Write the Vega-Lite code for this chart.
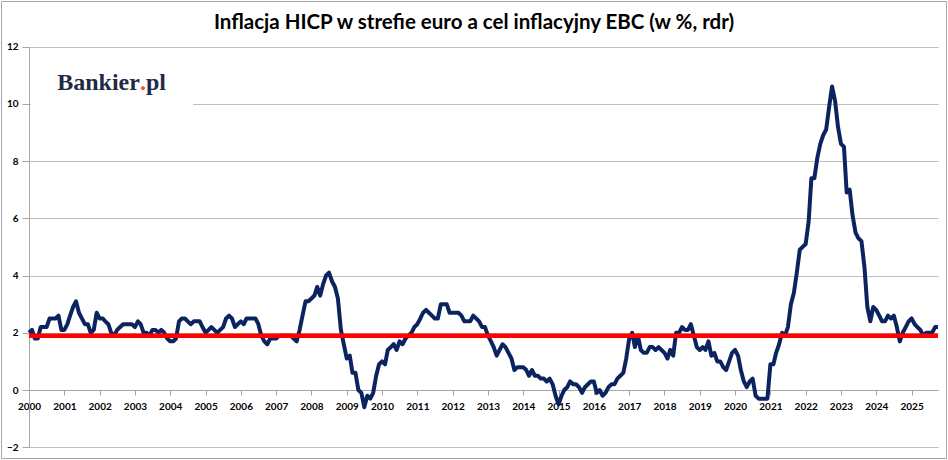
{
  "$schema": "https://vega.github.io/schema/vega-lite/v6.json",
  "autosize": "none",
  "padding": 1,
  "width": 945,
  "height": 457,
  "background": "white",
  "config": {"view": {"stroke": "#a6a6a6", "strokeWidth": 1}},
  "title": {
    "text": "Inflacja HICP w strefie euro a cel inflacyjny EBC (w %, rdr)",
    "anchor": "middle",
    "frame": "bounds",
    "offset": -27,
    "dy": 21,
    "baseline": "alphabetic",
    "font": "Lato",
    "fontSize": 20.5,
    "fontWeight": "bold",
    "color": "#000000"
  },
  "datasets": {
    "cel": [
      {"d": "2000-01-01", "cel": 1.9},
      {"d": "2025-10-01", "cel": 1.9}
    ],
    "hicp": [
      {"d": "2000-01-01", "v": 2.0}, {"d": "2000-02-01", "v": 2.1}, {"d": "2000-03-01", "v": 1.8}, {"d": "2000-04-01", "v": 1.8},
      {"d": "2000-05-01", "v": 2.2}, {"d": "2000-06-01", "v": 2.2}, {"d": "2000-07-01", "v": 2.2}, {"d": "2000-08-01", "v": 2.5},
      {"d": "2000-09-01", "v": 2.5}, {"d": "2000-10-01", "v": 2.5}, {"d": "2000-11-01", "v": 2.6}, {"d": "2000-12-01", "v": 2.1},
      {"d": "2001-01-01", "v": 2.1}, {"d": "2001-02-01", "v": 2.3}, {"d": "2001-03-01", "v": 2.6}, {"d": "2001-04-01", "v": 2.9},
      {"d": "2001-05-01", "v": 3.1}, {"d": "2001-06-01", "v": 2.7}, {"d": "2001-07-01", "v": 2.5}, {"d": "2001-08-01", "v": 2.3},
      {"d": "2001-09-01", "v": 2.3}, {"d": "2001-10-01", "v": 2.0}, {"d": "2001-11-01", "v": 2.1}, {"d": "2001-12-01", "v": 2.7},
      {"d": "2002-01-01", "v": 2.5}, {"d": "2002-02-01", "v": 2.5}, {"d": "2002-03-01", "v": 2.4}, {"d": "2002-04-01", "v": 2.3},
      {"d": "2002-05-01", "v": 2.0}, {"d": "2002-06-01", "v": 1.9}, {"d": "2002-07-01", "v": 2.1}, {"d": "2002-08-01", "v": 2.2},
      {"d": "2002-09-01", "v": 2.3}, {"d": "2002-10-01", "v": 2.3}, {"d": "2002-11-01", "v": 2.3}, {"d": "2002-12-01", "v": 2.3},
      {"d": "2003-01-01", "v": 2.2}, {"d": "2003-02-01", "v": 2.4}, {"d": "2003-03-01", "v": 2.3}, {"d": "2003-04-01", "v": 2.0},
      {"d": "2003-05-01", "v": 2.0}, {"d": "2003-06-01", "v": 1.9}, {"d": "2003-07-01", "v": 2.1}, {"d": "2003-08-01", "v": 2.1},
      {"d": "2003-09-01", "v": 2.0}, {"d": "2003-10-01", "v": 2.1}, {"d": "2003-11-01", "v": 2.0}, {"d": "2003-12-01", "v": 1.8},
      {"d": "2004-01-01", "v": 1.7}, {"d": "2004-02-01", "v": 1.7}, {"d": "2004-03-01", "v": 1.8}, {"d": "2004-04-01", "v": 2.4},
      {"d": "2004-05-01", "v": 2.5}, {"d": "2004-06-01", "v": 2.5}, {"d": "2004-07-01", "v": 2.4}, {"d": "2004-08-01", "v": 2.3},
      {"d": "2004-09-01", "v": 2.4}, {"d": "2004-10-01", "v": 2.4}, {"d": "2004-11-01", "v": 2.4}, {"d": "2004-12-01", "v": 2.2},
      {"d": "2005-01-01", "v": 2.0}, {"d": "2005-02-01", "v": 2.1}, {"d": "2005-03-01", "v": 2.2}, {"d": "2005-04-01", "v": 2.1},
      {"d": "2005-05-01", "v": 2.0}, {"d": "2005-06-01", "v": 2.1}, {"d": "2005-07-01", "v": 2.2}, {"d": "2005-08-01", "v": 2.5},
      {"d": "2005-09-01", "v": 2.6}, {"d": "2005-10-01", "v": 2.5}, {"d": "2005-11-01", "v": 2.2}, {"d": "2005-12-01", "v": 2.3},
      {"d": "2006-01-01", "v": 2.4}, {"d": "2006-02-01", "v": 2.3}, {"d": "2006-03-01", "v": 2.5}, {"d": "2006-04-01", "v": 2.5},
      {"d": "2006-05-01", "v": 2.5}, {"d": "2006-06-01", "v": 2.5}, {"d": "2006-07-01", "v": 2.3}, {"d": "2006-08-01", "v": 1.9},
      {"d": "2006-09-01", "v": 1.7}, {"d": "2006-10-01", "v": 1.6}, {"d": "2006-11-01", "v": 1.8}, {"d": "2006-12-01", "v": 1.8},
      {"d": "2007-01-01", "v": 1.8}, {"d": "2007-02-01", "v": 1.9}, {"d": "2007-03-01", "v": 1.9}, {"d": "2007-04-01", "v": 1.9},
      {"d": "2007-05-01", "v": 1.9}, {"d": "2007-06-01", "v": 1.9}, {"d": "2007-07-01", "v": 1.8}, {"d": "2007-08-01", "v": 1.7},
      {"d": "2007-09-01", "v": 2.1}, {"d": "2007-10-01", "v": 2.6}, {"d": "2007-11-01", "v": 3.1}, {"d": "2007-12-01", "v": 3.1},
      {"d": "2008-01-01", "v": 3.2}, {"d": "2008-02-01", "v": 3.3}, {"d": "2008-03-01", "v": 3.6}, {"d": "2008-04-01", "v": 3.3},
      {"d": "2008-05-01", "v": 3.7}, {"d": "2008-06-01", "v": 4.0}, {"d": "2008-07-01", "v": 4.1}, {"d": "2008-08-01", "v": 3.8},
      {"d": "2008-09-01", "v": 3.6}, {"d": "2008-10-01", "v": 3.2}, {"d": "2008-11-01", "v": 2.1}, {"d": "2008-12-01", "v": 1.6},
      {"d": "2009-01-01", "v": 1.1}, {"d": "2009-02-01", "v": 1.2}, {"d": "2009-03-01", "v": 0.6}, {"d": "2009-04-01", "v": 0.6},
      {"d": "2009-05-01", "v": 0.0}, {"d": "2009-06-01", "v": -0.1}, {"d": "2009-07-01", "v": -0.6}, {"d": "2009-08-01", "v": -0.2},
      {"d": "2009-09-01", "v": -0.3}, {"d": "2009-10-01", "v": -0.1}, {"d": "2009-11-01", "v": 0.5}, {"d": "2009-12-01", "v": 0.9},
      {"d": "2010-01-01", "v": 1.0}, {"d": "2010-02-01", "v": 0.9}, {"d": "2010-03-01", "v": 1.4}, {"d": "2010-04-01", "v": 1.5},
      {"d": "2010-05-01", "v": 1.6}, {"d": "2010-06-01", "v": 1.4}, {"d": "2010-07-01", "v": 1.7}, {"d": "2010-08-01", "v": 1.6},
      {"d": "2010-09-01", "v": 1.8}, {"d": "2010-10-01", "v": 1.9}, {"d": "2010-11-01", "v": 2.0}, {"d": "2010-12-01", "v": 2.2},
      {"d": "2011-01-01", "v": 2.3}, {"d": "2011-02-01", "v": 2.5}, {"d": "2011-03-01", "v": 2.7}, {"d": "2011-04-01", "v": 2.8},
      {"d": "2011-05-01", "v": 2.7}, {"d": "2011-06-01", "v": 2.6}, {"d": "2011-07-01", "v": 2.5}, {"d": "2011-08-01", "v": 2.5},
      {"d": "2011-09-01", "v": 3.0}, {"d": "2011-10-01", "v": 3.0}, {"d": "2011-11-01", "v": 3.0}, {"d": "2011-12-01", "v": 2.7},
      {"d": "2012-01-01", "v": 2.7}, {"d": "2012-02-01", "v": 2.7}, {"d": "2012-03-01", "v": 2.7}, {"d": "2012-04-01", "v": 2.6},
      {"d": "2012-05-01", "v": 2.4}, {"d": "2012-06-01", "v": 2.4}, {"d": "2012-07-01", "v": 2.4}, {"d": "2012-08-01", "v": 2.6},
      {"d": "2012-09-01", "v": 2.5}, {"d": "2012-10-01", "v": 2.4}, {"d": "2012-11-01", "v": 2.2}, {"d": "2012-12-01", "v": 2.2},
      {"d": "2013-01-01", "v": 1.9}, {"d": "2013-02-01", "v": 1.7}, {"d": "2013-03-01", "v": 1.5}, {"d": "2013-04-01", "v": 1.2},
      {"d": "2013-05-01", "v": 1.4}, {"d": "2013-06-01", "v": 1.6}, {"d": "2013-07-01", "v": 1.5}, {"d": "2013-08-01", "v": 1.3},
      {"d": "2013-09-01", "v": 1.1}, {"d": "2013-10-01", "v": 0.7}, {"d": "2013-11-01", "v": 0.8}, {"d": "2013-12-01", "v": 0.8},
      {"d": "2014-01-01", "v": 0.8}, {"d": "2014-02-01", "v": 0.7}, {"d": "2014-03-01", "v": 0.5}, {"d": "2014-04-01", "v": 0.7},
      {"d": "2014-05-01", "v": 0.5}, {"d": "2014-06-01", "v": 0.5}, {"d": "2014-07-01", "v": 0.4}, {"d": "2014-08-01", "v": 0.4},
      {"d": "2014-09-01", "v": 0.3}, {"d": "2014-10-01", "v": 0.4}, {"d": "2014-11-01", "v": 0.2}, {"d": "2014-12-01", "v": -0.2},
      {"d": "2015-01-01", "v": -0.5}, {"d": "2015-02-01", "v": -0.2}, {"d": "2015-03-01", "v": 0.0}, {"d": "2015-04-01", "v": 0.1},
      {"d": "2015-05-01", "v": 0.3}, {"d": "2015-06-01", "v": 0.2}, {"d": "2015-07-01", "v": 0.2}, {"d": "2015-08-01", "v": 0.1},
      {"d": "2015-09-01", "v": -0.1}, {"d": "2015-10-01", "v": 0.1}, {"d": "2015-11-01", "v": 0.2}, {"d": "2015-12-01", "v": 0.3},
      {"d": "2016-01-01", "v": 0.3}, {"d": "2016-02-01", "v": -0.1}, {"d": "2016-03-01", "v": 0.0}, {"d": "2016-04-01", "v": -0.2},
      {"d": "2016-05-01", "v": -0.1}, {"d": "2016-06-01", "v": 0.1}, {"d": "2016-07-01", "v": 0.2}, {"d": "2016-08-01", "v": 0.2},
      {"d": "2016-09-01", "v": 0.4}, {"d": "2016-10-01", "v": 0.5}, {"d": "2016-11-01", "v": 0.6}, {"d": "2016-12-01", "v": 1.1},
      {"d": "2017-01-01", "v": 1.8}, {"d": "2017-02-01", "v": 2.0}, {"d": "2017-03-01", "v": 1.5}, {"d": "2017-04-01", "v": 1.9},
      {"d": "2017-05-01", "v": 1.4}, {"d": "2017-06-01", "v": 1.3}, {"d": "2017-07-01", "v": 1.3}, {"d": "2017-08-01", "v": 1.5},
      {"d": "2017-09-01", "v": 1.5}, {"d": "2017-10-01", "v": 1.4}, {"d": "2017-11-01", "v": 1.5}, {"d": "2017-12-01", "v": 1.4},
      {"d": "2018-01-01", "v": 1.3}, {"d": "2018-02-01", "v": 1.1}, {"d": "2018-03-01", "v": 1.4}, {"d": "2018-04-01", "v": 1.2},
      {"d": "2018-05-01", "v": 2.0}, {"d": "2018-06-01", "v": 2.0}, {"d": "2018-07-01", "v": 2.2}, {"d": "2018-08-01", "v": 2.1},
      {"d": "2018-09-01", "v": 2.1}, {"d": "2018-10-01", "v": 2.3}, {"d": "2018-11-01", "v": 1.9}, {"d": "2018-12-01", "v": 1.5},
      {"d": "2019-01-01", "v": 1.4}, {"d": "2019-02-01", "v": 1.5}, {"d": "2019-03-01", "v": 1.4}, {"d": "2019-04-01", "v": 1.7},
      {"d": "2019-05-01", "v": 1.2}, {"d": "2019-06-01", "v": 1.3}, {"d": "2019-07-01", "v": 1.0}, {"d": "2019-08-01", "v": 1.0},
      {"d": "2019-09-01", "v": 0.8}, {"d": "2019-10-01", "v": 0.7}, {"d": "2019-11-01", "v": 1.0}, {"d": "2019-12-01", "v": 1.3},
      {"d": "2020-01-01", "v": 1.4}, {"d": "2020-02-01", "v": 1.2}, {"d": "2020-03-01", "v": 0.7}, {"d": "2020-04-01", "v": 0.3},
      {"d": "2020-05-01", "v": 0.1}, {"d": "2020-06-01", "v": 0.3}, {"d": "2020-07-01", "v": 0.4}, {"d": "2020-08-01", "v": -0.2},
      {"d": "2020-09-01", "v": -0.3}, {"d": "2020-10-01", "v": -0.3}, {"d": "2020-11-01", "v": -0.3}, {"d": "2020-12-01", "v": -0.3},
      {"d": "2021-01-01", "v": 0.9}, {"d": "2021-02-01", "v": 0.9}, {"d": "2021-03-01", "v": 1.3}, {"d": "2021-04-01", "v": 1.6},
      {"d": "2021-05-01", "v": 2.0}, {"d": "2021-06-01", "v": 1.9}, {"d": "2021-07-01", "v": 2.2}, {"d": "2021-08-01", "v": 3.0},
      {"d": "2021-09-01", "v": 3.4}, {"d": "2021-10-01", "v": 4.1}, {"d": "2021-11-01", "v": 4.9}, {"d": "2021-12-01", "v": 5.0},
      {"d": "2022-01-01", "v": 5.1}, {"d": "2022-02-01", "v": 5.9}, {"d": "2022-03-01", "v": 7.4}, {"d": "2022-04-01", "v": 7.4},
      {"d": "2022-05-01", "v": 8.1}, {"d": "2022-06-01", "v": 8.6}, {"d": "2022-07-01", "v": 8.9}, {"d": "2022-08-01", "v": 9.1},
      {"d": "2022-09-01", "v": 9.9}, {"d": "2022-10-01", "v": 10.6}, {"d": "2022-11-01", "v": 10.1}, {"d": "2022-12-01", "v": 9.2},
      {"d": "2023-01-01", "v": 8.6}, {"d": "2023-02-01", "v": 8.5}, {"d": "2023-03-01", "v": 6.9}, {"d": "2023-04-01", "v": 7.0},
      {"d": "2023-05-01", "v": 6.1}, {"d": "2023-06-01", "v": 5.5}, {"d": "2023-07-01", "v": 5.3}, {"d": "2023-08-01", "v": 5.2},
      {"d": "2023-09-01", "v": 4.3}, {"d": "2023-10-01", "v": 2.9}, {"d": "2023-11-01", "v": 2.4}, {"d": "2023-12-01", "v": 2.9},
      {"d": "2024-01-01", "v": 2.8}, {"d": "2024-02-01", "v": 2.6}, {"d": "2024-03-01", "v": 2.4}, {"d": "2024-04-01", "v": 2.4},
      {"d": "2024-05-01", "v": 2.6}, {"d": "2024-06-01", "v": 2.5}, {"d": "2024-07-01", "v": 2.6}, {"d": "2024-08-01", "v": 2.2},
      {"d": "2024-09-01", "v": 1.7}, {"d": "2024-10-01", "v": 2.0}, {"d": "2024-11-01", "v": 2.2}, {"d": "2024-12-01", "v": 2.4},
      {"d": "2025-01-01", "v": 2.5}, {"d": "2025-02-01", "v": 2.3}, {"d": "2025-03-01", "v": 2.2}, {"d": "2025-04-01", "v": 2.1},
      {"d": "2025-05-01", "v": 1.9}, {"d": "2025-06-01", "v": 2.0}, {"d": "2025-07-01", "v": 2.0}, {"d": "2025-08-01", "v": 2.0},
      {"d": "2025-09-01", "v": 2.2}, {"d": "2025-10-01", "v": 2.2}
    ]
  },
  "encoding": {
    "x": {
      "type": "temporal",
      "scale": {
        "type": "utc",
        "nice": false,
        "domain": [
          {"year": 2000, "month": 1, "date": 1, "utc": true},
          {"year": 2025, "month": 10, "date": 1, "utc": true}
        ],
        "range": [28, 937]
      },
      "axis": {
        "title": null,
        "orient": "bottom",
        "offset": -68,
        "format": "%Y",
        "tickCount": {"interval": "year", "step": 1},
        "labelFlush": false,
        "labelOverlap": false,
        "labelBound": false,
        "grid": false,
        "domainColor": "#a6a6a6",
        "tickColor": "#a6a6a6",
        "tickSize": 5,
        "labelPadding": 6,
        "labelFont": "Lato",
        "labelFontSize": 10,
        "labelFontWeight": "bold",
        "labelColor": "#000000"
      }
    },
    "y": {
      "type": "quantitative",
      "scale": {"domain": [-2, 12], "range": [446.3, 45.5], "nice": false, "zero": false},
      "axis": {
        "title": null,
        "orient": "left",
        "offset": -28,
        "values": [-2, 0, 2, 4, 6, 8, 10, 12],
        "grid": true,
        "gridColor": "#bfbfbf",
        "gridWidth": 1,
        "domainColor": "#a6a6a6",
        "tickColor": "#a6a6a6",
        "tickSize": 7,
        "labelPadding": 4,
        "labelFont": "Lato",
        "labelFontSize": 10,
        "labelFontWeight": "bold",
        "labelColor": "#000000"
      }
    }
  },
  "layer": [
    {
      "data": {"values": [{}]},
      "mark": {"type": "rect", "fill": "white"},
      "encoding": {
        "x": {"datum": {"year": 2000, "month": 1, "date": 20, "utc": true}},
        "x2": {"datum": {"year": 2004, "month": 8, "date": 25, "utc": true}},
        "y": {"datum": 9.8},
        "y2": {"datum": 10.2}
      }
    },
    {
      "data": {"name": "hicp"},
      "mark": {"type": "line", "color": "#0b2460", "strokeWidth": 4, "strokeJoin": "round"},
      "encoding": {
        "x": {"field": "d"},
        "y": {"field": "v"}
      }
    },
    {
      "data": {"name": "cel"},
      "mark": {"type": "line", "color": "#ff0000", "strokeWidth": 4.5},
      "encoding": {
        "x": {"field": "d"},
        "y": {"field": "cel"}
      }
    },
    {
      "data": {"values": [{}]},
      "mark": {"type": "text", "align": "left", "baseline": "alphabetic", "font": "Liberation Serif", "fontWeight": "bold", "fontSize": 24, "color": "#1f2a44"},
      "encoding": {
        "x": {"datum": {"year": 2000, "month": 10, "date": 19, "utc": true}},
        "y": {"datum": 10.47},
        "text": {"value": "Bankier"}
      }
    },
    {
      "data": {"values": [{}]},
      "mark": {"type": "text", "align": "left", "baseline": "alphabetic", "font": "Liberation Serif", "fontWeight": "bold", "fontSize": 24, "color": "#e5532d", "dx": 82.7},
      "encoding": {
        "x": {"datum": {"year": 2000, "month": 10, "date": 19, "utc": true}},
        "y": {"datum": 10.47},
        "text": {"value": "."}
      }
    },
    {
      "data": {"values": [{}]},
      "mark": {"type": "text", "align": "left", "baseline": "alphabetic", "font": "Liberation Serif", "fontWeight": "bold", "fontSize": 24, "color": "#1f2a44", "dx": 88.7},
      "encoding": {
        "x": {"datum": {"year": 2000, "month": 10, "date": 19, "utc": true}},
        "y": {"datum": 10.47},
        "text": {"value": "pl"}
      }
    }
  ]
}
